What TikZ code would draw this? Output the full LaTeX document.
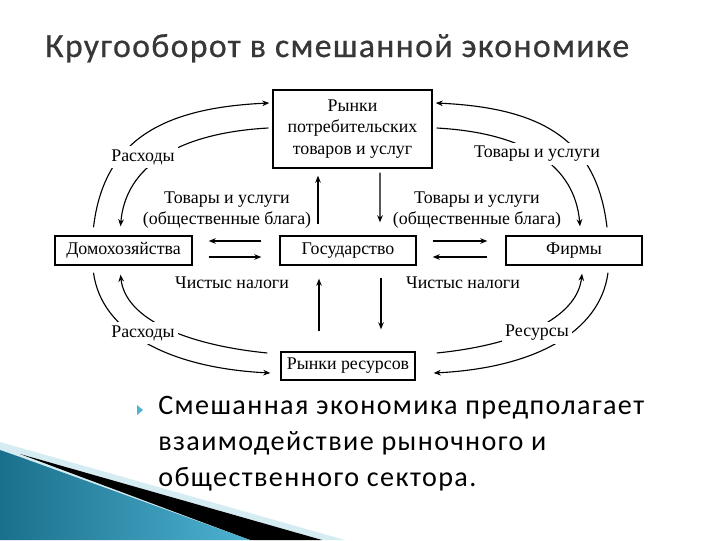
\documentclass[tikz,border=0pt]{standalone}
\usepackage{fontspec}
\setmainfont{Liberation Serif}
\newfontfamily\titlefont[LetterSpace=4, FakeBold=0.6]{Carlito}
\newfontfamily\bulletfont[LetterSpace=5]{Carlito}
\usetikzlibrary{calc,arrows.meta}

\definecolor{tealdark}{RGB}{26,112,140}
\definecolor{teallight}{RGB}{78,178,210}
\definecolor{palecyan}{RGB}{214,236,243}
\definecolor{titlegray}{RGB}{55,55,55}

\begin{document}
\begin{tikzpicture}[x=0.025cm, y=-0.025cm,
  box/.style={draw=black, line width=1pt, inner sep=0pt, align=center,
    font=\fontsize{12.7}{15.5}\selectfont},
  lbl/.style={fill=white, inner sep=2.5pt, align=center,
    font=\fontsize{12.7}{15.5}\selectfont},
  arr/.style={line width=0.8pt, -{Stealth[length=5pt, width=4pt]}},
  slide/.style={font=\bulletfont\fontsize{20}{25.5}\selectfont, align=left, inner sep=0pt}]

  \useasboundingbox (0,0) rectangle (720,540);

  % corner decoration of the slide
  \fill[palecyan] (0,442) -- (345,540) -- (0,540) -- cycle;
  \fill[black] (20,454) -- (322,540) -- (250,540) -- cycle;
  \shade[left color=tealdark, right color=teallight] (0,450) -- (20,457) -- (250,540) -- (0,540) -- cycle;

  % slide title
  \node[font=\titlefont\fontsize{24}{28}\selectfont, text=titlegray, anchor=base west, inner sep=0pt]
    (title) at (45,57) {Кругооборот в смешанной экономике};

  % boxes of the circular flow
  \node[box, minimum width=3.975cm, minimum height=1.95cm] (rynki) at (352.5,129)
    {Рынки\\потребительских\\товаров и услуг};
  \node[box, minimum width=3.425cm, minimum height=0.725cm] (dom) at (123.5,250.5) {Домохозяйства};
  \node[box, minimum width=3.4cm, minimum height=0.725cm] (gos) at (348,250.5) {Государство};
  \node[box, minimum width=3.4cm, minimum height=0.725cm] (firmy) at (574,250.5) {Фирмы};
  \node[box, minimum width=3.35cm, minimum height=0.7cm] (resursy) at (348,366) {Рынки ресурсов};

  % upper loops
  \draw[arr] ($(dom.north)+(-30,-8)$) .. controls +(10,-85) and +(-110,5) .. ($(rynki.west)+(-3,-26)$);
  \draw[arr] ($(rynki.west)+(-4,-1)$) .. controls +(-90,5) and +(5,-60) .. ($(dom.north)+(-3,-9)$);
  \draw[arr] ($(firmy.north)+(33,-8)$) .. controls +(-10,-85) and +(110,5) .. ($(rynki.east)+(3,-26)$);
  \draw[arr] ($(rynki.east)+(4,-1)$) .. controls +(90,5) and +(-5,-60) .. ($(firmy.north)+(6,-9)$);

  % lower loops
  \draw[arr] ($(dom.south)+(-30,7)$) .. controls +(8,60) and +(-100,-5) .. ($(resursy.west)+(-10,7)$);
  \draw[arr] ($(resursy.west)+(-13,-13)$) .. controls +(-80,-8) and +(5,45) .. ($(dom.south)+(-3,9)$);
  \draw[arr] ($(firmy.south)+(34,7)$) .. controls +(-8,60) and +(100,-5) .. ($(resursy.east)+(18,7)$);
  \draw[arr] ($(resursy.east)+(21,-13)$) .. controls +(80,-8) and +(-5,45) .. ($(firmy.south)+(8,8)$);

  % government links
  \draw[arr] ($(gos.north)+(-30,-11)$) -- ($(rynki.south)+(-34.5,7)$);
  \draw[arr] ($(rynki.south)+(27.5,4)$) -- ($(gos.north)+(32,-13)$);
  \draw[arr] ($(resursy.north)+(-29,-20)$) -- ($(gos.south)+(-29,13)$);
  \draw[arr] ($(gos.south)+(33,12)$) -- ($(resursy.north)+(33,-22)$);
  \draw[arr] ($(gos.west)+(-18,-9.5)$) -- ($(dom.east)+(16,-9.5)$);
  \draw[arr] ($(dom.east)+(16,6.5)$) -- ($(gos.west)+(-18,6.5)$);
  \draw[arr] ($(gos.east)+(16,-9.5)$) -- ($(firmy.west)+(-18,-9.5)$);
  \draw[arr] ($(firmy.west)+(-18,6.5)$) -- ($(gos.east)+(16,6.5)$);

  % flow labels
  \node[lbl] (rashodyTop) at (143,157) {Расходы};
  \node[lbl] (tovary) at (537,154) {Товары и услуги};
  \node[lbl] (rashodyBot) at (143,333) {Расходы};
  \node[lbl] (resLbl) at (537,333) {Ресурсы};
  \node[lbl] (blagaL) at (227,210) {Товары и услуги\\(общественные блага)};
  \node[lbl] (blagaR) at (477,210) {Товары и услуги\\(общественные блага)};
  \node[lbl] (nalogL) at (232,283) {Чистыс налоги};
  \node[lbl] (nalogR) at (463,283) {Чистыс налоги};

  % bullet text
  \fill[teallight] (137,405) -- (143,410) -- (137,415) -- cycle;
  \node[slide, anchor=north west] (txt) at (158,396)
    {Смешанная экономика предполагает\\взаимодействие рыночного и\\общественного сектора.};
\end{tikzpicture}
\end{document}
